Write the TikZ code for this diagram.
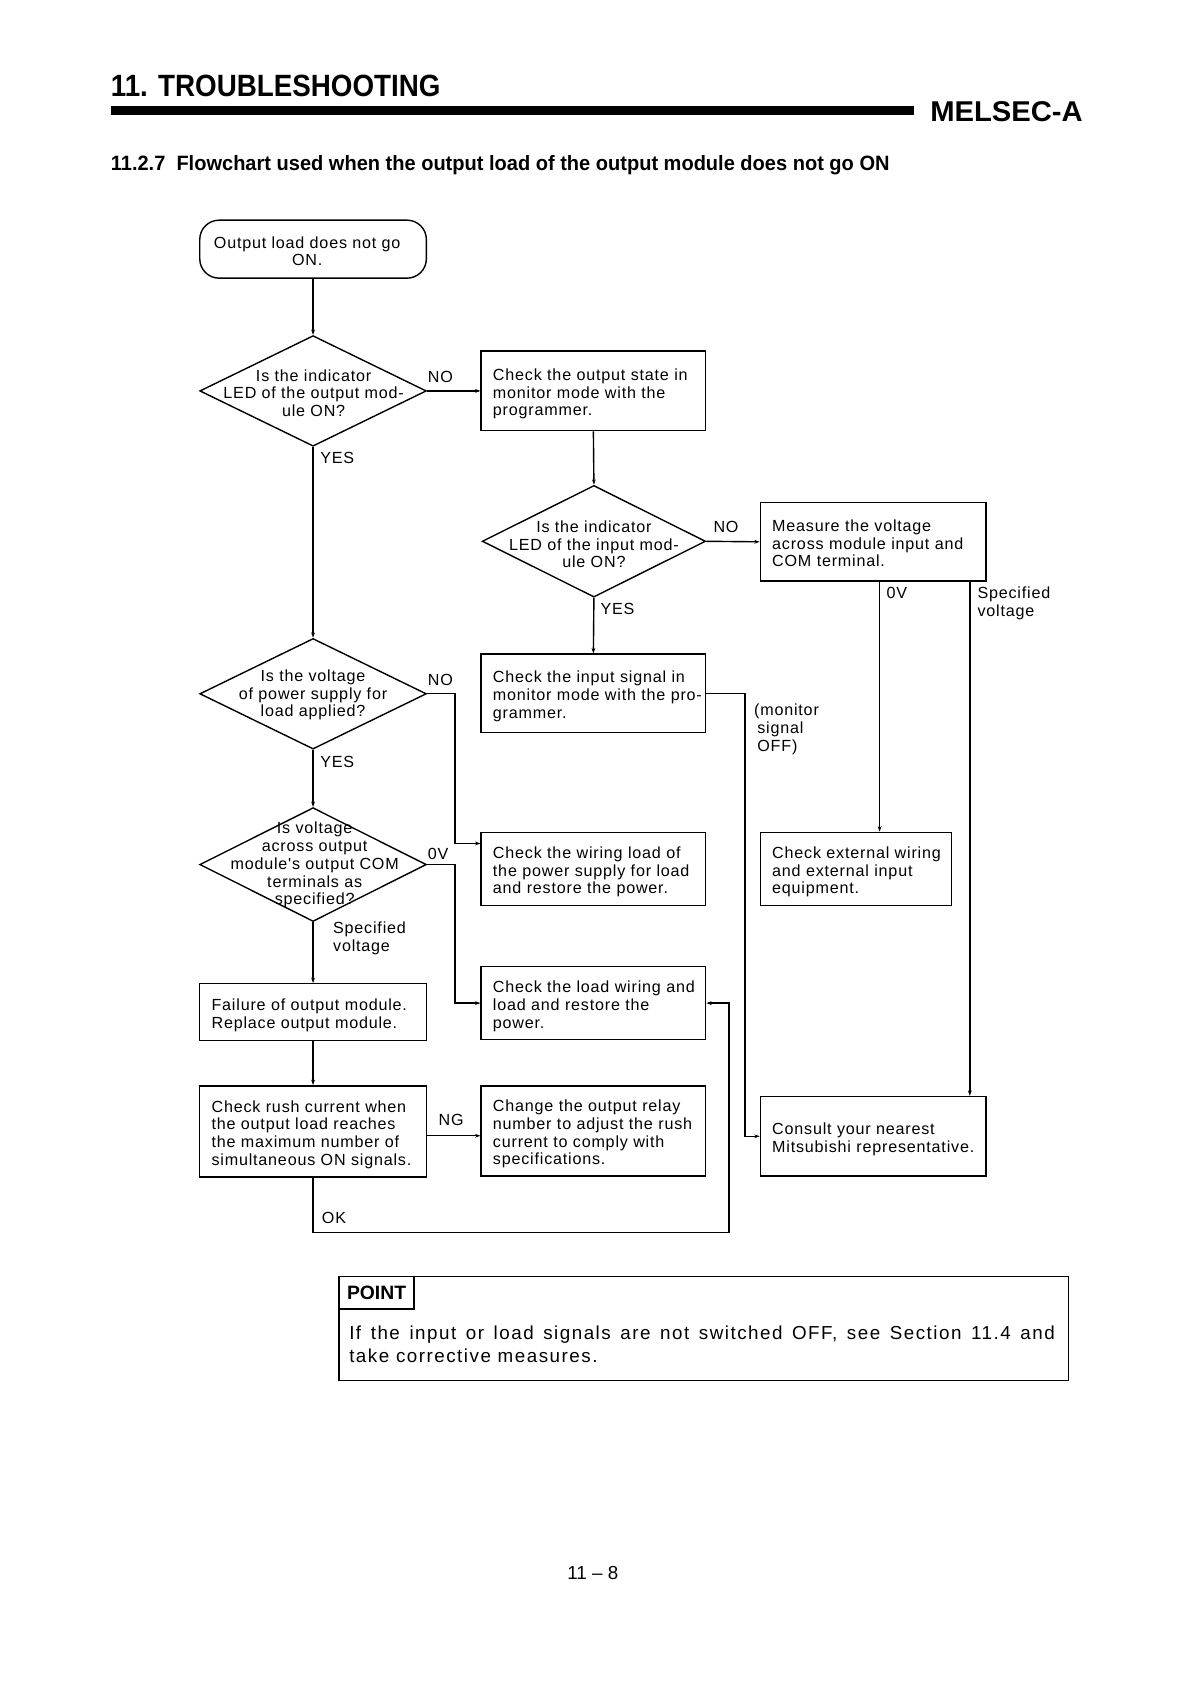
\documentclass[tikz,border=0pt]{standalone}
\usepackage{fontspec}
\usepackage{graphicx}
\usetikzlibrary{shapes.geometric,arrows.meta}
\newfontfamily\flfont[LetterSpace=5]{Liberation Sans}
\newfontfamily\bdfont[LetterSpace=8]{Liberation Sans}
\newfontfamily\hdfont{Liberation Sans}
\newcommand\fl{\flfont\fontsize{15}{16.5}\selectfont}
\newcommand\bodyfnt{\bdfont\fontsize{17.5}{22}\selectfont}
\newcommand\tl[1]{\raisebox{-3.5pt}[\height][\depth]{\begin{tabular}[c]{@{}l@{}}#1\end{tabular}}}
\begin{document}
\begin{tikzpicture}[x=1pt,y=-1pt,
  ln/.style={line width=1.3pt},
  arr/.style={ln,-{Stealth[length=5pt,width=3.5pt]}},
  box/.style={draw,ln,rectangle,inner sep=0pt,align=left,font=\fl},
  dia/.style={draw,ln,diamond,inner sep=0pt},
  dtxt/.style={font=\fl,align=center,inner sep=0pt},
  lbl/.style={font=\fl,align=left,inner sep=0pt}]
\useasboundingbox[fill=white] (0,0) rectangle (1108,1568);

% header
\node[anchor=base west,inner sep=0pt] (title) at (103,90) {\resizebox{307pt}{20pt}{\hdfont\bfseries 11. TROUBLESHOOTING}};
\fill (103,99) rectangle (851,107);
\node[anchor=base west,inner sep=0pt] (mel) at (866,113) {\resizebox{142pt}{18.6pt}{\hdfont\bfseries MELSEC-A}};
\node[anchor=base west,inner sep=0pt] (sub) at (103,158.5) {\resizebox{725pt}{14pt}{\hdfont\bfseries 11.2.7\ \ Flowchart used when the output load of the output module does not go ON}};

% start
\node[draw,ln,rounded corners=18pt,minimum width=211pt,minimum height=54pt,inner sep=0pt] (start) at (291.5,232) {};
\node[dtxt] (startt) at (286,234) {Output load does not go\\ON.};

% diamonds
\node[dia,minimum width=211pt,minimum height=103pt] (d1) at (291.5,364) {};
\node[dtxt] (d1t) at (292,366) {Is the indicator\\LED of the output mod-\\ule ON?};
\node[dia,minimum width=208pt,minimum height=104pt] (d2) at (553,504) {};
\node[dtxt] (d2t) at (553,507) {Is the indicator\\LED of the input mod-\\ule ON?};
\node[dia,minimum width=211pt,minimum height=103pt] (d3) at (291.5,646) {};
\node[dtxt] (d3t) at (291.5,647) {Is the voltage\\of power supply for\\load applied?};
\node[dia,minimum width=211pt,minimum height=106pt] (d4) at (291.5,805) {};
\node[dtxt,text depth=0pt] (d4t) at (293,804) {Is voltage\\across output\\module's output COM\\terminals as\\specified?};

% boxes
\node[box,minimum width=209pt,minimum height=74pt,text width=187pt] (b2) at (552.5,364) {\tl{Check the output state in\\monitor mode with the\\programmer.}};
\node[box,minimum width=210pt,minimum height=73pt,text width=188pt] (b3) at (813,504.5) {\tl{Measure the voltage\\across module input and\\COM terminal.}};
\node[box,minimum width=209pt,minimum height=73pt,text width=187pt] (b4) at (552.5,645.5) {\tl{Check the input signal in\\monitor mode with the pro-\\grammer.}};
\node[box,minimum width=209pt,minimum height=68pt,text width=187pt] (b5) at (552.5,809) {\tl{Check the wiring load of\\the power supply for load\\and restore the power.}};
\node[box,minimum width=178pt,minimum height=68pt,text width=156pt] (ext) at (797,809) {\tl{Check external wiring\\and external input\\equipment.}};
\node[box,minimum width=209pt,minimum height=68pt,text width=187pt] (b6) at (552.5,934) {\tl{Check the load wiring and\\load and restore the\\power.}};
\node[box,minimum width=211pt,minimum height=53pt,text width=189pt] (b7) at (291.5,942.5) {\tl{Failure of output module.\\Replace output module.}};
\node[box,minimum width=211pt,minimum height=85pt,text width=189pt] (b8) at (291.5,1053.5) {\tl{Check rush current when\\the output load reaches\\the maximum number of\\simultaneous ON signals.}};
\node[box,minimum width=209pt,minimum height=84pt,text width=187pt] (b9) at (552.5,1053) {\tl{Change the output relay\\number to adjust the rush\\current to comply with\\specifications.}};
\node[box,minimum width=210pt,minimum height=74pt,text width=188pt] (cons) at (813,1058) {\tl{Consult your nearest\\Mitsubishi representative.}};

% connectors
\draw[arr] (start.south) -- (d1.north);
\draw[arr] (d1.east) -- (b2.west);
\draw[arr] (d1.south) -- (d3.north);
\draw[arr] (b2.south) -- (d2.north);
\draw[arr] (d2.east) -- (b3.west);
\draw[arr] (d2.south) -- (b4.north);
\draw[arr] (b4.east) -- ++(36,0) |- (cons.west);
\draw[arr] ([xshift=6pt]b3.south) -- ([xshift=6pt]b3.south |- ext.north);
\draw[arr] ([xshift=90pt]b3.south) -- ([xshift=90pt]b3.south |- cons.north);
\draw[arr] (d3.east) -- ++(26,0) |- ([yshift=-11pt]b5.north west);
\draw[arr] (d3.south) -- (d4.north);
\draw[arr] (d4.east) -- ++(26,0) |- (b6.west);
\draw[arr] (d4.south) -- (b7.north);
\draw[arr] (b7.south) -- (b8.north);
\draw[arr] ([yshift=-4pt]b8.east) -- ([yshift=-4pt]b8.east -| b9.west);
\draw[arr] (b8.south) -- ++(0,51) -| ([xshift=21pt]b6.east) -- (b6.east);

% labels
\node[lbl] (l1) at (410,351) {NO};
\node[lbl] (l2) at (314,426) {YES};
\node[lbl] (l3) at (676,491) {NO};
\node[lbl] (l4) at (575,567) {YES};
\node[lbl] (l5) at (835,552) {0V};
\node[lbl,anchor=west] (l6) at (910,561.5) {Specified\\voltage};
\node[lbl,anchor=west] (l7) at (702,679) {(monitor\\\hspace*{3pt}signal\\\hspace*{3pt}OFF)};
\node[lbl] (l8) at (410,633) {NO};
\node[lbl] (l9) at (314,709) {YES};
\node[lbl] (l10) at (408,795) {0V};
\node[lbl,anchor=west] (l11) at (310,874) {Specified\\voltage};
\node[lbl] (l12) at (420,1043) {NG};
\node[lbl] (l13) at (311,1134) {OK};

% point box
\node[draw,ln,anchor=north west,minimum width=679pt,minimum height=97pt,inner sep=0pt] (pt) at (315,1188) {};
\node[draw,ln,anchor=north west,minimum width=70pt,minimum height=30pt,inner sep=0pt,font=\hdfont\bfseries\fontsize{18}{20}\selectfont] (ptl) at (315,1188) {POINT};
\node[anchor=north west,text width=657pt,align=justify,inner sep=0pt,font=\bodyfnt] (ptt) at (325,1234) {If the input or load signals are not switched OFF, see Section 11.4 and\linebreak take corrective measures.};

% page number
\node[inner sep=0pt,font=\hdfont\fontsize{17.5}{20}\selectfont] (pg) at (552,1465) {11 – 8};
\end{tikzpicture}
\end{document}
